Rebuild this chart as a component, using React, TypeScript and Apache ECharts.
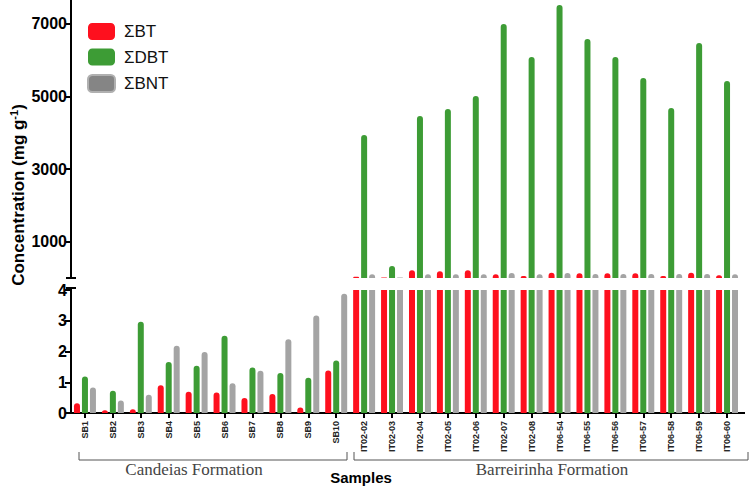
import React, { useEffect, useRef } from "react";
import * as echarts from "echarts";

const categories = [
  "SB1", "SB2", "SB3", "SB4", "SB5", "SB6", "SB7", "SB8", "SB9", "SB10",
  "IT02-02", "IT02-03", "IT02-04", "IT02-05", "IT02-06", "IT02-07", "IT02-08",
  "IT06-54", "IT06-55", "IT06-56", "IT06-57", "IT06-58", "IT06-59", "IT06-60",
];
const sumBT = [0.32, 0.09, 0.12, 0.9, 0.69, 0.67, 0.49, 0.62, 0.18, 1.38,
  36, 15, 212, 185, 212, 102, 55, 146, 130, 130, 130, 55, 146, 74];
const sumDBT = [1.19, 0.72, 2.97, 1.66, 1.54, 2.51, 1.48, 1.3, 1.15, 1.71,
  3940, 330, 4465, 4658, 5016, 7000, 6091, 7524, 6587, 6091, 5512, 4685, 6477, 5430];
const sumBNT = [0.83, 0.41, 0.59, 2.19, 1.98, 0.97, 1.37, 2.4, 3.17, 3.88,
  102, 15, 102, 102, 102, 138, 102, 138, 110, 110, 110, 110, 110, 102];

const upperTicks = [1000, 3000, 5000, 7000];
const lowerMax = 4;
const upperMax = 7660;

const COLORS = { BT: "#fe101e", DBT: "#3d9c35", BNT: "#a4a4a4" };

export default function App() {
  const ref = useRef<HTMLDivElement>(null);
  useEffect(() => {
    if (!ref.current) return;
    const chart = echarts.init(ref.current, null, { renderer: "svg" });
    const font = "Arial, 'Liberation Sans', sans-serif";
    const mkLower = (arr: number[]) =>
      arr.map((v) => ({ value: v, itemStyle: { borderRadius: v > lowerMax ? 0 : [3, 3, 0, 0] } }));
    const mkUpper = (arr: number[]) => arr.map((v) => ({ value: v > lowerMax ? v : null }));
    const names = ["ΣBT", "ΣDBT", "ΣBNT"];
    const arrs = [sumBT, sumDBT, sumBNT];
    const cols = [COLORS.BT, COLORS.DBT, COLORS.BNT];
    const series: any[] = [];
    for (let i = 0; i < 3; i++) {
      series.push({
        type: "bar", name: names[i], xAxisIndex: 0, yAxisIndex: 0,
        data: mkUpper(arrs[i]), barWidth: 6, barGap: "33%",
        itemStyle: { color: cols[i], borderRadius: [3, 3, 0, 0] },
      });
    }
    for (let i = 0; i < 3; i++) {
      series.push({
        type: "bar", name: names[i], xAxisIndex: 1, yAxisIndex: 1,
        data: mkLower(arrs[i]), barWidth: 6, barGap: "33%", clip: true,
        itemStyle: { color: cols[i], borderRadius: [3, 3, 0, 0] },
      });
    }
    const axisLine = { show: true, lineStyle: { color: "#000", width: 2 } };
    const yLabel = {
      color: "#000", fontWeight: "bold" as const, fontSize: 16, fontFamily: font, margin: 4,
      formatter: (v: number) => String(v),
    };
    chart.setOption({
      animation: false,
      backgroundColor: "#fff",
      legend: {
        orient: "vertical", left: 82, top: 18, itemWidth: 27, itemHeight: 17, itemGap: 8.5,
        icon: "roundRect",
        textStyle: { fontSize: 17, fontFamily: font, color: "#111", padding: [0, 0, 0, 4] },
        data: [
          { name: "ΣBT", itemStyle: { color: COLORS.BT } },
          { name: "ΣDBT", itemStyle: { color: COLORS.DBT } },
          { name: "ΣBNT", itemStyle: { color: "#858585", borderColor: "#b0b0b0", borderWidth: 2 } },
        ],
      },
      grid: [
        { left: 71, right: 9, top: 0, height: 278 },
        { left: 71, right: 9, top: 290, height: 123 },
      ],
      xAxis: [
        { type: "category", gridIndex: 0, data: categories, show: false },
        {
          type: "category", gridIndex: 1, data: categories,
          axisLine, axisTick: { show: true, alignWithLabel: true, length: 5, lineStyle: { color: "#000", width: 2 } },
          axisLabel: { rotate: 90, fontSize: 9, fontWeight: "bold", color: "#222", fontFamily: font, margin: 8, interval: 0 },
        },
      ],
      yAxis: [
        {
          type: "value", gridIndex: 0, min: 0, max: upperMax,
          splitLine: { show: false }, axisLine,
          axisTick: { show: true, length: 5, lineStyle: { color: "#000", width: 2 }, customValues: upperTicks },
          axisLabel: { ...yLabel, customValues: upperTicks },
        },
        {
          type: "value", gridIndex: 1, min: 0, max: lowerMax, interval: 1,
          splitLine: { show: false }, axisLine,
          axisTick: { show: true, length: 6, lineStyle: { color: "#000", width: 2 } },
          axisLabel: yLabel,
        },
      ],
      series,
      graphic: [
        { type: "line", shape: { x1: 66, y1: 278, x2: 76, y2: 278 }, style: { stroke: "#000", lineWidth: 2 } },
        { type: "line", shape: { x1: 66, y1: 288, x2: 76, y2: 288 }, style: { stroke: "#000", lineWidth: 2 } },
        { type: "line", shape: { x1: 71, y1: 288, x2: 71, y2: 291 }, style: { stroke: "#000", lineWidth: 2 } },
        { type: "line", shape: { x1: 740, y1: 413, x2: 745, y2: 413 }, style: { stroke: "#000", lineWidth: 2 } },
        {
          type: "text", x: 18, y: 195, rotation: Math.PI / 2,
          style: {
            text: "{a|Concentration (mg g}{s|-1}{a|)}",
            align: "center", verticalAlign: "middle",
            rich: {
              a: { fontSize: 17, fontWeight: "bold", fontFamily: font, fill: "#000", lineHeight: 20 },
              s: { fontSize: 11, fontWeight: "bold", fontFamily: font, fill: "#000", verticalAlign: "top", lineHeight: 20, padding: [0, 0, 7, 0] },
            },
          },
        },
        { type: "polyline", shape: { points: [[79, 452], [79, 460], [347, 460], [347, 452]] }, style: { stroke: "#555", lineWidth: 1, fill: "none" } },
        { type: "polyline", shape: { points: [[354, 452], [354, 460], [748, 460], [748, 452]] }, style: { stroke: "#555", lineWidth: 1, fill: "none" } },
        { type: "text", x: 194, y: 469, style: { text: "Candeias Formation", align: "center", verticalAlign: "middle", fontSize: 17, fontFamily: "'Liberation Serif', 'Times New Roman', serif", fill: "#444" } },
        { type: "text", x: 552, y: 469, style: { text: "Barreirinha Formation", align: "center", verticalAlign: "middle", fontSize: 17, fontFamily: "'Liberation Serif', 'Times New Roman', serif", fill: "#444" } },
        { type: "text", x: 361, y: 477, style: { text: "Samples", align: "center", verticalAlign: "middle", fontSize: 15, fontWeight: "bold", fontFamily: font, fill: "#000" } },
      ],
    });
    return () => chart.dispose();
  }, []);
  return <div ref={ref} style={{ width: 750, height: 486, position: "absolute", left: 0, top: 0 }} />;
}
